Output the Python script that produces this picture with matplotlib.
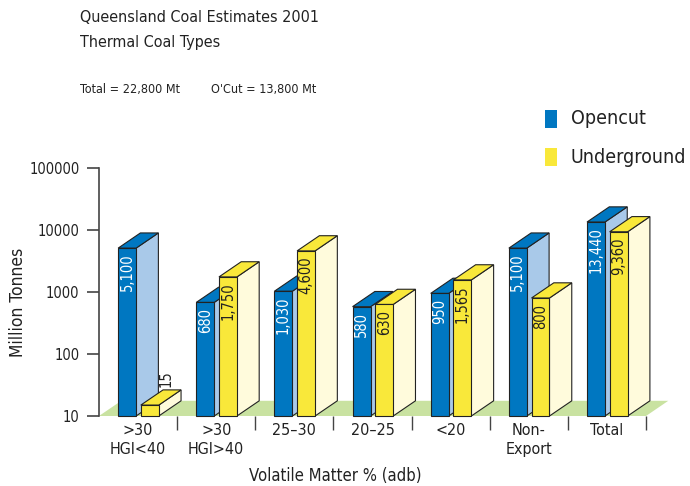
import matplotlib
matplotlib.use("Agg")
import matplotlib.pyplot as plt
from matplotlib.patches import Polygon

categories = [">30\nHGI<40", ">30\nHGI>40", "25\u201330", "20\u201325", "<20", "Non-\nExport", "Total"]
opencut = [5100, 680, 1030, 580, 950, 5100, 13440]
underground = [15, 1750, 4600, 630, 1565, 800, 9360]
opencut_labels = ["5,100", "680", "1,030", "580", "950", "5,100", "13,440"]
underground_labels = ["15", "1,750", "4,600", "630", "1,565", "800", "9,360"]
yticks = [10, 100, 1000, 10000, 100000]

plt.rcParams["font.family"] = ["DejaVu Sans"]
plt.rcParams["font.stretch"] = "condensed"

BLUE = "#0077c1"
BLUE_SIDE = "#a9c9e9"
YELLOW = "#f9e83a"
YELLOW_SIDE = "#fffbdc"
FLOOR = "#c9e2a1"
TXT = "#222222"

fig = plt.figure(figsize=(6.9, 4.86), dpi=100)
ax = fig.add_axes([99 / 690, 70 / 486, 547 / 690, 248 / 486])
ax.set_yscale("log")
ax.set_ylim(10, 100000)
ax.set_xlim(-0.5, 6.5)

DX = 0.285          # depth offset in x (data units)
K = 10 ** 0.245     # depth offset in y (multiplicative on log axis)
W = 0.23            # bar front width


def box(x0, val, front, side):
    x1 = x0 + W
    b = 10
    ax.add_patch(Polygon([(x1, b), (x1 + DX, b * K), (x1 + DX, val * K), (x1, val)],
                         closed=True, facecolor=side, edgecolor=TXT, lw=0.8,
                         clip_on=False, zorder=3))
    ax.add_patch(Polygon([(x0, val), (x0 + DX, val * K), (x1 + DX, val * K), (x1, val)],
                         closed=True, facecolor=front, edgecolor=TXT, lw=0.8,
                         clip_on=False, zorder=3))
    ax.add_patch(Polygon([(x0, b), (x1, b), (x1, val), (x0, val)],
                         closed=True, facecolor=front, edgecolor=TXT, lw=0.8,
                         clip_on=False, zorder=4))


# floor
ax.add_patch(Polygon([(-0.5, 10), (6.5, 10), (6.5 + DX, 10 * K), (-0.5 + DX, 10 * K)],
                     closed=True, facecolor=FLOOR, edgecolor="none", clip_on=False, zorder=1))

for i in range(len(categories)):
    xo = i - 0.255
    xu = i + 0.035
    box(xo, opencut[i], BLUE, BLUE_SIDE)
    box(xu, underground[i], YELLOW, YELLOW_SIDE)
    ax.annotate(opencut_labels[i], (xo + W / 2, opencut[i]), xytext=(0, -4),
                textcoords="offset points", rotation=90, ha="center", va="top",
                color="white", fontsize=10.5, zorder=5)
    if underground[i] < 100:
        ax.annotate(underground_labels[i], (xu + W / 2 + DX * 0.75, underground[i] * K),
                    xytext=(0, 2), textcoords="offset points", rotation=90,
                    ha="center", va="bottom", color=TXT, fontsize=10.5, zorder=5)
    else:
        ax.annotate(underground_labels[i], (xu + W / 2, underground[i]), xytext=(0, -4),
                    textcoords="offset points", rotation=90, ha="center", va="top",
                    color=TXT, fontsize=10.5, zorder=5)

for s in ["top", "right", "bottom"]:
    ax.spines[s].set_visible(False)
ax.spines["left"].set_color("#444444")
ax.spines["left"].set_linewidth(1.2)
ax.set_yticks(yticks)
ax.set_yticklabels([str(v) for v in yticks])
ax.minorticks_off()
ax.tick_params(axis="y", length=9, width=1.2, color="#444444", labelsize=10.5, pad=5,
               labelcolor=TXT)

ax.set_xticks([i + 0.5 for i in range(len(categories))])
ax.set_xticklabels([])
ax.tick_params(axis="x", length=10, width=1.0, color="#444444", pad=0, direction="out")
for i, c in enumerate(categories):
    ax.text(i, 7.7, c, ha="center", va="top", fontsize=11.5, color=TXT,
            linespacing=1.3, transform=ax.transData)

fig.text(18 / 690, 1 - 302 / 486, "Million Tonnes", ha="center", va="center",
         rotation=90, fontsize=12.5, color=TXT)
fig.text(335 / 690, 1 - 476 / 486, "Volatile Matter % (adb)", ha="center", va="center",
         fontsize=12, color=TXT)

fig.text(80 / 690, 1 - 18 / 486, "Queensland Coal Estimates 2001", ha="left", va="center",
         fontsize=11.5, color=TXT)
fig.text(80 / 690, 1 - 43 / 486, "Thermal Coal Types", ha="left", va="center",
         fontsize=11.5, color=TXT)
fig.text(80 / 690, 1 - 90 / 486, "Total = 22,800 Mt", ha="left", va="center",
         fontsize=9, color=TXT)
fig.text(211 / 690, 1 - 90 / 486, "O'Cut = 13,800 Mt", ha="left", va="center",
         fontsize=9, color=TXT)

fig.patches.append(Polygon([(545, 486 - 110), (557, 486 - 110), (557, 486 - 128), (545, 486 - 128)],
                           closed=True, facecolor=BLUE, edgecolor="none",
                           transform=None, figure=fig))
fig.patches.append(Polygon([(545, 486 - 148), (557, 486 - 148), (557, 486 - 166), (545, 486 - 166)],
                           closed=True, facecolor=YELLOW, edgecolor="none",
                           transform=None, figure=fig))
fig.text(571 / 690, 1 - 118 / 486, "Opencut", ha="left", va="center", fontsize=14,
         color=TXT)
fig.text(571 / 690, 1 - 157 / 486, "Underground", ha="left", va="center", fontsize=14,
         color=TXT)

fig.savefig("out.png", dpi=100, facecolor="white")
